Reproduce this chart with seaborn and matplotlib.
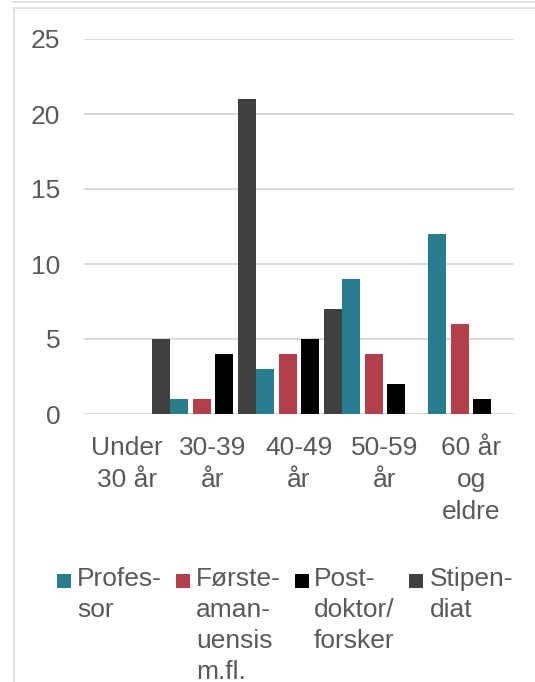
import numpy as np
import pandas as pd
import matplotlib
matplotlib.use("Agg")
import matplotlib.pyplot as plt
import seaborn as sns
from matplotlib.patches import Rectangle
from matplotlib.lines import Line2D

# ---- data ----
categories = ["Under\n30 år", "30-39\når", "40-49\når", "50-59\når", "60 år\nog\neldre"]
series = ["Professor", "Førsteamanuensis m.fl.", "Postdoktor/forsker", "Stipendiat"]
legend_labels = ["Profes-\nsor", "Første-\naman-\nuensis\nm.fl.", "Post-\ndoktor/\nforsker", "Stipen-\ndiat"]
professor = [0, 1, 3, 9, 12]
forsteamanuensis = [0, 1, 4, 4, 6]
postdoktor = [0, 4, 5, 2, 1]
stipendiat = [5, 21, 7, 0, 0]
yticks = [0, 5, 10, 15, 20, 25]
colors = ["#287C8E", "#B33F4B", "#000000", "#404040"]

sns.set_theme(style="white")
plt.rcParams["font.family"] = ["Liberation Sans", "DejaVu Sans"]

df = pd.DataFrame({
    "Alder": categories * 4,
    "Stilling": np.repeat(series, len(categories)),
    "Antall": professor + forsteamanuensis + postdoktor + stipendiat,
})

W, H = 535, 682
FS = 19
TXT = "#595959"
LS = 1.42

fig = plt.figure(figsize=(W / 100, H / 100), dpi=100)
ax = fig.add_axes([84 / W, (H - 414) / H, 430 / W, 375 / H])
sns.barplot(data=df, x="Alder", y="Antall", hue="Stilling", order=categories,
            hue_order=series, palette=colors, width=1.05, gap=0.196,
            saturation=1, errorbar=None, linewidth=0, legend=False, ax=ax)

ax.set_ylim(0, 25)
ax.set_xlim(-0.5, len(categories) - 0.5)
ax.set_yticks(yticks)
ax.set_xlabel("")
ax.set_ylabel("")
ax.yaxis.grid(True, color="#D9D9D9", linewidth=1.4)
ax.xaxis.grid(False)
ax.set_axisbelow(True)
for s in ax.spines.values():
    s.set_visible(False)
ax.tick_params(axis="y", length=0, labelsize=FS, labelcolor=TXT, pad=17)
ax.tick_params(axis="x", length=0, labelsize=FS, labelcolor=TXT, pad=16)
for lbl in ax.get_xticklabels():
    lbl.set_linespacing(LS)

# ---- legend (square marker aligned with first text line) ----
marker_x = [57, 176, 295, 409]
text_x = [77, 196, 314, 430]
for mx, tx, lab, c in zip(marker_x, text_x, legend_labels, colors):
    fig.add_artist(Rectangle((mx / W, 1 - 588 / H), 14 / W, 14 / H,
                             transform=fig.transFigure, facecolor=c,
                             edgecolor="none"))
    fig.text(tx / W, 1 - 567 / H, lab, ha="left", va="top", fontsize=FS,
             color=TXT, linespacing=1.36)

# outer frame lines
fc = "#D9D9D9"
fig.add_artist(Line2D([13 / W, 1], [1 - 1.5 / H, 1 - 1.5 / H], color=fc, lw=1.1,
                      transform=fig.transFigure))
fig.add_artist(Line2D([13.5 / W, 1], [1 - 8 / H, 1 - 8 / H], color=fc, lw=1.1,
                      transform=fig.transFigure))
fig.add_artist(Line2D([13.5 / W, 13.5 / W], [1 - 8 / H, 0], color=fc, lw=1.1,
                      transform=fig.transFigure))

fig.savefig("out.png", dpi=100)
